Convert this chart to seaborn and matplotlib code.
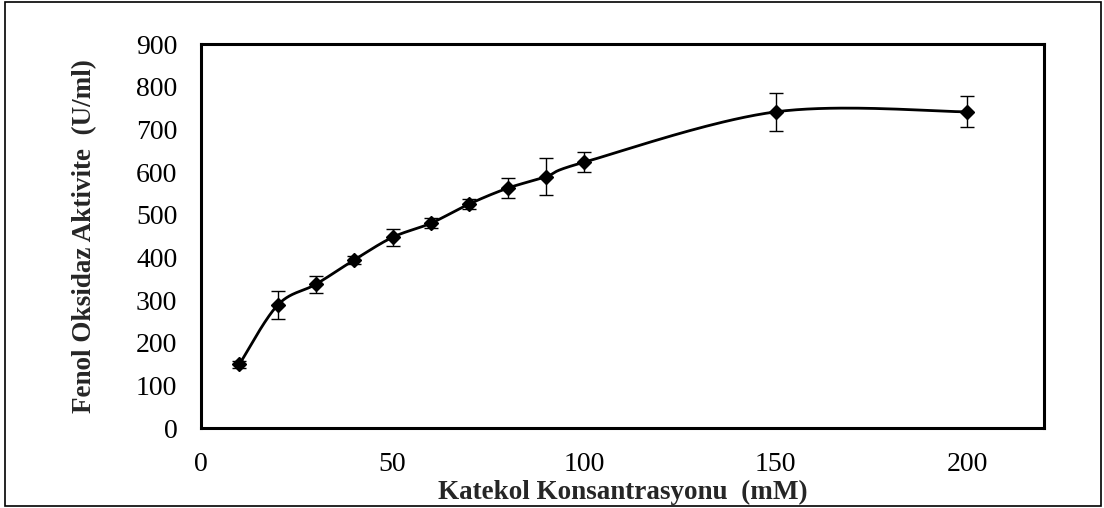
import numpy as np
import pandas as pd
import matplotlib
matplotlib.use("Agg")
import matplotlib.pyplot as plt
import seaborn as sns
from matplotlib.patches import Rectangle

# Data
concentration = [10, 20, 30, 40, 50, 60, 70, 80, 90, 100, 150, 200]
activity = [149, 288, 337, 394, 447, 480, 525, 562, 589, 623, 741, 741]
error = [8, 33, 20, 10, 20, 12, 12, 24, 43, 23, 45, 36]
x_ticks = [0, 50, 100, 150, 200]
y_ticks = [0, 100, 200, 300, 400, 500, 600, 700, 800, 900]
x_label = "Katekol Konsantrasyonu  (mM)"
y_label = "Fenol Oksidaz Aktivite  (U/ml)"

sns.set_theme(style="white")
plt.rcParams['font.family'] = ['Liberation Serif', 'DejaVu Serif']


def smooth_curve(xs, ys, n=40):
    """Excel-like smoothing: Catmull-Rom style cubic Bezier through points."""
    xs = np.asarray(xs, float)
    ys = np.asarray(ys, float)
    P = np.column_stack([xs, ys])
    out = []
    m = len(P)
    for i in range(m - 1):
        p0 = P[i - 1] if i > 0 else P[i]
        p1 = P[i]
        p2 = P[i + 1]
        p3 = P[i + 2] if i + 2 < m else P[i + 1]
        c1 = p1 + (p2 - p0) / 6.0
        c2 = p2 - (p3 - p1) / 6.0
        t = np.linspace(0, 1, n)[:, None]
        seg = ((1 - t) ** 3) * p1 + 3 * ((1 - t) ** 2) * t * c1 + 3 * (1 - t) * t ** 2 * c2 + t ** 3 * p2
        out.append(seg if i == 0 else seg[1:])
    return np.vstack(out)


curve = smooth_curve(concentration, activity)
curve_df = pd.DataFrame({"x": curve[:, 0], "y": curve[:, 1]})
pts_df = pd.DataFrame({"x": concentration, "y": activity, "err": error})

fig = plt.figure(figsize=(11.04, 5.08), dpi=100)
ax = fig.add_axes([201 / 1104, 1 - 428 / 508, (1044 - 201) / 1104, (428 - 44) / 508])

sns.lineplot(data=curve_df, x="x", y="y", ax=ax, color="black", linewidth=2.0,
             sort=False, estimator=None)
ax.errorbar(pts_df["x"], pts_df["y"], yerr=pts_df["err"], fmt="none",
            ecolor="black", elinewidth=1.0, capsize=5, capthick=1.0, zorder=3)
ax.plot(pts_df["x"], pts_df["y"], linestyle="none", marker="D", markersize=7.5,
        color="black", zorder=4)

ax.set_xlim(0, 220)
ax.set_ylim(0, 900)
ax.set_xticks(x_ticks)
ax.set_yticks(y_ticks)
ax.tick_params(axis="both", direction="in", length=6, width=1.5, labelsize=20,
               colors="black")
ax.tick_params(axis="x", pad=17)
ax.tick_params(axis="y", pad=17)
for s in ax.spines.values():
    s.set_linewidth(2.2)
    s.set_color("black")

ax.set_xlabel(x_label, fontsize=19.5, fontweight="bold", labelpad=2)
ax.set_ylabel(y_label, fontsize=19.5, fontweight="bold", labelpad=28)
ax.grid(False)

fig.patches.append(Rectangle((5 / 1104, 1 - 506 / 508), (1101 - 5) / 1104, (506 - 2) / 508,
                             transform=fig.transFigure, fill=False, edgecolor="black",
                             linewidth=1.2))

fig.savefig("out.png", dpi=100)
